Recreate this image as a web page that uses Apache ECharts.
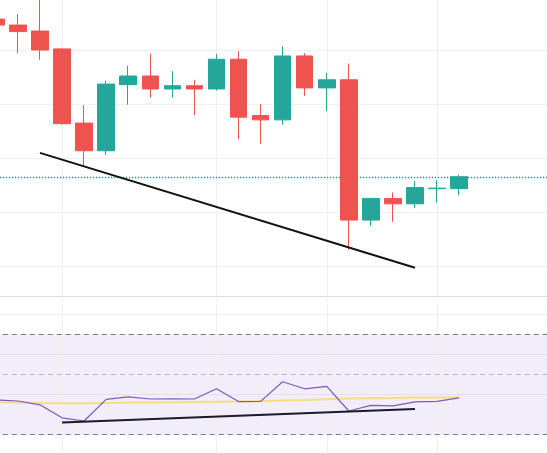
<!DOCTYPE html>
<html>
<head>
<meta charset="utf-8">
<script src="https://cdn.jsdelivr.net/npm/echarts@6/dist/echarts.min.js"></script>
<style>
  html, body { margin: 0; padding: 0; background: #fff; }
  #chart { width: 547px; height: 453px; }
</style>
</head>
<body>
<div id="chart"></div>
<script>
// candle slots (last few are empty space on the right)
const categories = ['1', '2', '3', '4', '5', '6', '7', '8', '9', '10', '11', '12', '13',
  '14', '15', '16', '17', '18', '19', '20', '21', '22', '23', '24', '25', '26'];

// [open, close, low, high]
const candles = [
  [305.7, 304.6, 304.2, 306.1],
  [304.6, 303.4, 299.4, 306.6],
  [303.5, 300.0, 298.2, 310.2],
  [300.2, 286.4, 286.2, 300.4],
  [286.5, 281.4, 278.5, 289.8],
  [281.4, 293.7, 280.6, 294.3],
  [293.6, 295.2, 289.9, 297.1],
  [295.2, 292.8, 291.2, 299.3],
  [292.8, 293.4, 291.2, 296.1],
  [293.4, 292.8, 288.0, 294.5],
  [292.8, 298.3, 292.5, 299.3],
  [298.3, 287.6, 283.5, 299.8],
  [287.9, 287.1, 282.7, 290.0],
  [287.1, 298.9, 286.2, 300.7],
  [298.9, 293.0, 291.5, 299.4],
  [293.0, 294.5, 288.7, 295.8],
  [294.5, 268.6, 263.1, 297.5],
  [268.6, 272.6, 267.5, 272.6],
  [272.6, 271.6, 268.3, 273.7],
  [271.6, 274.6, 270.8, 275.8],
  [274.4, 274.5, 271.8, 276.0],
  [274.4, 276.6, 273.2, 277.0]
];

const rsi = [37.0, 36.5, 34.6, 28.1, 26.5, 37.3, 38.6, 37.5, 37.6, 37.5, 42.6,
  36.2, 36.3, 46.1, 42.6, 43.8, 31.5, 34.3, 34.1, 36.1, 36.3, 38.1];
const rsiMa = [35.9, 35.7, 35.5, 35.4, 35.4, 35.5, 35.7, 35.8, 35.9, 36.0, 36.1,
  36.2, 36.5, 36.8, 37.0, 37.4, 37.7, 37.9, 38.0, 38.2, 38.3, 38.4];

const priceTrend = [[2, 281.0], [19, 259.8]];
const rsiTrend = [[3, 25.7], [19, 32.5]];
const vGridAt = [3, 10, 15, 20];
const lastClose = 276.6;
const rsiUpper = 70;
const rsiMid = 50;
const rsiLower = 20;

const up = '#26a69a';
const down = '#ef5350';
const gridColor = '#f0f0f0';

const chart = echarts.init(document.getElementById('chart'));

// empty helper series that only carry mark lines
const markOnly = (idx, z, style, lines) => ({
  type: 'line',
  xAxisIndex: idx,
  yAxisIndex: idx,
  data: [],
  silent: true,
  z: z,
  markLine: {
    silent: true,
    z: z,
    symbol: 'none',
    label: { show: false },
    lineStyle: style,
    data: lines
  }
});

const gridStyle = { color: gridColor, width: 1, type: 'solid' };
const vLines = vGridAt.map(i => ({ xAxis: i, lineStyle: gridStyle }));
const priceStyle = { color: '#1e9a8e', width: 1.4, type: [1.4, 1.6], opacity: 1 };

chart.setOption({
  animation: false,
  backgroundColor: '#fff',
  grid: [
    { left: -15.2, right: -11.4, top: -1, height: 297, outerBoundsMode: 'none' },
    { left: -15.2, right: -11.4, top: 296, bottom: -1, outerBoundsMode: 'none' }
  ],
  xAxis: [
    {
      type: 'category',
      gridIndex: 0,
      data: categories,
      boundaryGap: true,
      axisLine: { show: true, lineStyle: { color: '#dcdcdc' } },
      axisTick: { show: false },
      axisLabel: { show: false },
      splitLine: { show: false }
    },
    {
      type: 'category',
      gridIndex: 1,
      data: categories,
      boundaryGap: true,
      axisLine: { show: false },
      axisTick: { show: false },
      axisLabel: { show: false },
      splitLine: { show: false }
    }
  ],
  yAxis: [
    {
      type: 'value',
      gridIndex: 0,
      min: 254.585,
      max: 309.415,
      axisLine: { show: false },
      axisTick: { show: false },
      axisLabel: { show: false },
      splitLine: { show: true, lineStyle: { color: gridColor } }
    },
    {
      type: 'value',
      gridIndex: 1,
      min: 10,
      max: 89,
      axisLine: { show: false },
      axisTick: { show: false },
      axisLabel: { show: false },
      splitLine: { show: true, lineStyle: { color: gridColor } }
    }
  ],
  series: [
    markOnly(0, 1, gridStyle, vLines),
    markOnly(1, 1, gridStyle, vLines),
    markOnly(0, 2, priceStyle, [{ yAxis: lastClose, lineStyle: priceStyle }]),
    {
      type: 'candlestick',
      xAxisIndex: 0,
      yAxisIndex: 0,
      data: candles,
      barWidth: 17,
      z: 3,
      itemStyle: {
        color: up,
        color0: down,
        borderColor: up,
        borderColor0: down,
        borderWidth: 1
      }
    },
    {
      type: 'line',
      xAxisIndex: 0,
      yAxisIndex: 0,
      data: priceTrend,
      symbol: 'none',
      z: 4,
      lineStyle: { color: '#111', width: 2 }
    },
    {
      type: 'line',
      xAxisIndex: 1,
      yAxisIndex: 1,
      data: rsiMa,
      symbol: 'none',
      z: 2,
      lineStyle: { color: 'rgba(247,214,90,0.75)', width: 2 }
    },
    {
      type: 'line',
      xAxisIndex: 1,
      yAxisIndex: 1,
      data: rsi,
      symbol: 'none',
      z: 3,
      lineStyle: { color: '#7e57c2', width: 1.2 },
      markArea: {
        silent: true,
        z: 0,
        itemStyle: { color: 'rgba(126,87,194,0.1)' },
        data: [[{ yAxis: rsiUpper }, { yAxis: rsiLower }]]
      },
      markLine: {
        silent: true,
        z: 1,
        symbol: 'none',
        label: { show: false },
        data: [
          { yAxis: rsiUpper, lineStyle: { color: '#787b86', width: 1, type: [5, 4] } },
          { yAxis: rsiMid, lineStyle: { color: '#b2b5be', width: 1, type: [5, 4] } },
          { yAxis: rsiLower, lineStyle: { color: '#787b86', width: 1, type: [5, 4] } }
        ]
      }
    },
    {
      type: 'line',
      xAxisIndex: 1,
      yAxisIndex: 1,
      data: rsiTrend,
      symbol: 'none',
      z: 4,
      lineStyle: { color: '#1a1a2a', width: 2 }
    }
  ]
});
</script>
</body>
</html>
